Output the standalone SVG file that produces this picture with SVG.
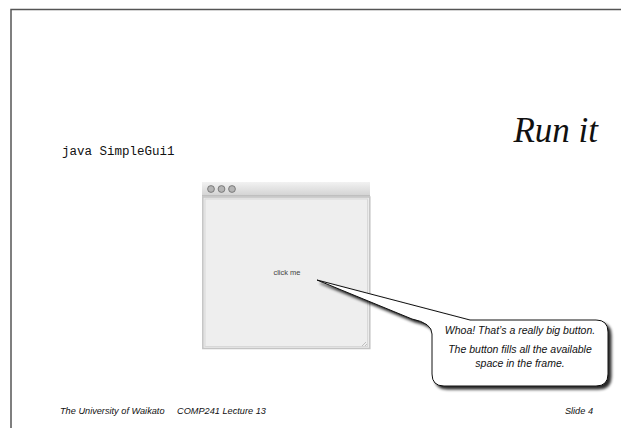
<svg xmlns="http://www.w3.org/2000/svg" width="621" height="428" viewBox="0 0 621 428">
<style>
.foot{font-family:"Liberation Sans",Arial,sans-serif;font-style:italic;font-size:9.2px;fill:#111}
.call{font-family:"Liberation Sans",Arial,sans-serif;font-style:italic;font-size:10.5px;fill:#111;text-anchor:middle}
.light{fill:#b5b5b5;stroke:#6a6a6a;stroke-width:0.8}
</style>
<defs>
<filter id="sh" x="-10%" y="-10%" width="130%" height="140%">
<feGaussianBlur in="SourceAlpha" stdDeviation="1.8"/>
<feOffset dx="3" dy="3"/>
<feComponentTransfer><feFuncA type="linear" slope="0.85"/></feComponentTransfer>
<feMerge><feMergeNode/><feMergeNode in="SourceGraphic"/></feMerge>
</filter>
<linearGradient id="tb" x1="0" y1="0" x2="0" y2="1">
<stop offset="0" stop-color="#f2f2f2"/><stop offset="1" stop-color="#d2d2d2"/>
</linearGradient>
</defs>
<rect width="621" height="428" fill="#fff"/>
<g id="border" fill="none" stroke="#555" stroke-width="1.5">
<path d="M621 9.5 H11 V428"/>
</g>
<g id="title"><text x="598" y="142" text-anchor="end" font-family="Liberation Serif,Times New Roman,serif" font-style="italic" font-size="35" fill="#111">Run it</text></g>
<g id="cmd"><text x="62" y="155" font-family="Liberation Mono,Courier New,monospace" font-size="12.5" fill="#111">java SimpleGui1</text></g>
<g id="window">
<rect x="202" y="182" width="168" height="14" fill="url(#tb)"/>
<line x1="202" y1="196" x2="370" y2="196" stroke="#aaa"/>
<circle cx="211" cy="189" r="3.4" class="light"/>
<circle cx="221.5" cy="189" r="3.4" class="light"/>
<circle cx="232" cy="189" r="3.4" class="light"/>
<rect x="202.8" y="197" width="167" height="151.5" fill="#ebebeb" stroke="#c4c4c4" stroke-width="1.5"/>
<rect x="205" y="199" width="162.5" height="147.5" fill="#eeeeee" stroke="#d8d8d8"/>
<path d="M362 346 L366 342 M365 346 L367 344" stroke="#aaa" stroke-width="0.7"/>
<text x="287" y="275" text-anchor="middle" font-family="Liberation Sans,Arial,sans-serif" font-size="7.5" fill="#444">click me</text>
</g>
<g id="callout">
<path filter="url(#sh)" d="M317 280 L470 320 H596 Q608 320 608 332 V374 Q608 386 596 386 H444 Q432 386 432 374 V334 Q432 323 412 319 Z" fill="#fff" stroke="#111" stroke-width="1"/>
<text class="call" x="520" y="334">Whoa! That’s a really big button.</text>
<text class="call" x="520" y="353">The button fills all the available</text>
<text class="call" x="520" y="367">space in the frame.</text>
</g>
<g id="footer">
<text class="foot" x="60" y="414">The University of Waikato</text>
<text class="foot" x="177" y="414">COMP241 Lecture 13</text>
<text class="foot" x="593" y="414" text-anchor="end">Slide 4</text>
</g>
</svg>
